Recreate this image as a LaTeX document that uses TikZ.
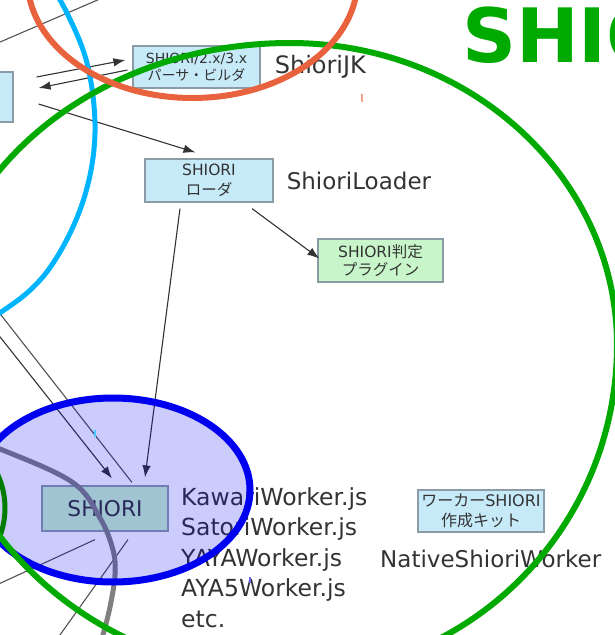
\documentclass[tikz,border=0pt]{standalone}
\usepackage{fontspec}
\setmainfont{DejaVu Sans}
\newfontfamily\jpfont{Noto Sans CJK JP}
\usepackage{tikz}
\usetikzlibrary{arrows.meta,positioning,calc}
\definecolor{boxblue}{RGB}{198,234,248}
\definecolor{boxgreen}{RGB}{200,246,202}
\definecolor{boxline}{RGB}{140,156,166}
\definecolor{inkgray}{RGB}{51,51,51}
\definecolor{ringorange}{RGB}{233,98,62}
\definecolor{ringcyan}{RGB}{0,180,255}
\definecolor{ringgreen}{RGB}{0,170,0}
\definecolor{ringdkgreen}{RGB}{0,125,0}
\definecolor{ringblue}{RGB}{0,0,240}
\definecolor{ringgray}{RGB}{128,128,128}

\begin{document}
\begin{tikzpicture}[x=1pt, y=-1pt, >={Latex[length=12pt, width=8.5pt]},
    box/.style={draw=boxline, line width=1.2pt, fill=boxblue, text=inkgray,
                align=center, inner sep=0pt},
    lbl/.style={text=inkgray, inner sep=0pt, font=\fontsize{23}{31}\selectfont},
    arr/.style={->, draw=inkgray, line width=1.1pt},
    wire/.style={draw=inkgray!85, line width=1.1pt},
    ring/.style={line width=6pt}]
    \useasboundingbox (0,0) rectangle (615,635);
    \clip (0,0) rectangle (615,635);
    % --- boxes ---
    \node[box, minimum width=113pt, minimum height=50pt] (lbox) at (-43.5,97) {};
    \node[box, minimum width=127pt, minimum height=42pt,
          font=\fontsize{14}{17}\selectfont] (parser) at (196.5,67)
      {SHIORI/2.x/3.x\\{\jpfont パーサ・ビルダ}};
    \node[box, minimum width=128pt, minimum height=43pt,
          font=\fontsize{15.5}{20}\selectfont] (loader) at (209,180.5)
      {SHIORI\\{\jpfont ローダ}};
    \node[box, fill=boxgreen, minimum width=125pt, minimum height=43pt,
          font=\fontsize{15.5}{18}\selectfont] (judge) at (380.5,260.5)
      {SHIORI{\jpfont 判定}\\{\jpfont プラグイン}};
    \node[box, minimum width=126pt, minimum height=42pt,
          font=\fontsize{16}{20}\selectfont] (kit) at (481,511)
      {{\jpfont ワーカー}SHIORI\\{\jpfont 作成キット}};
    \node[box, fill=boxgreen, minimum width=126pt, minimum height=45pt,
          font=\fontsize{21.7}{26}\selectfont] (shiori) at (105,508.5) {SHIORI};
    % --- labels ---
    \node[lbl, right=14pt of parser, font=\fontsize{24}{31}\selectfont] (jk) {ShioriJK};
    \node[lbl, right=13pt of loader] (loaderlbl) {ShioriLoader};
    \node[lbl, align=left, anchor=north west, font=\fontsize{23.5}{30.6}\selectfont]
      (workers) at (181,487)
      {KawariWorker.js\\SatoriWorker.js\\YAYAWorker.js\\AYA5Worker.js\\etc.};
    \node[lbl, anchor=base west] (native) at (380,567) {NativeShioriWorker};
    % --- connectors ---
    \coordinate (farA) at (-60,237);
    \coordinate (farB) at (-60,261);
    \coordinate (farC) at (-60,611);
    \coordinate (farD) at (30,677);
    \coordinate (farE) at (-30,55);
    \coordinate (farF) at (130,-14);
    \draw[wire] (farE) -- (farF);
    \draw[arr] ([xshift=23pt,yshift=20pt]lbox.east) -- ([xshift=-7pt,yshift=7pt]parser.west);
    \draw[arr] ([xshift=-5pt,yshift=-3pt]parser.west) -- ([xshift=25pt,yshift=9pt]lbox.east);
    \draw[arr] ([xshift=25pt,yshift=-7pt]lbox.east) -- ([xshift=-13.5pt,yshift=6pt]loader.north);
    \draw[arr] ([xshift=43pt,yshift=-6pt]loader.south) -- ([xshift=2pt,yshift=2pt]judge.west);
    \draw[arr] ([xshift=-29pt,yshift=-6pt]loader.south) -- ([xshift=40pt,yshift=8pt]shiori.north);
    \draw[wire] (farA) -- ([xshift=27pt,yshift=3pt]shiori.north);
    \draw[arr] (farB) -- ([xshift=7pt,yshift=7pt]shiori.north);
    \draw[wire] ([xshift=-10pt,yshift=-8pt]shiori.south) -- (farC);
    \draw[wire] ([xshift=23pt,yshift=-8pt]shiori.south) -- (farD);
    % --- gray ring, then the blue one over it ---
    \draw[ring, ringgray, line width=5pt] plot [smooth, tension=0.6] coordinates
      {(-60,428) (0,449) (72,482) (100,518) (113,550) (115,575) (110,607) (103,635) (95,665)};
    \draw[ring, ringblue, line width=7pt, fill=ringblue, fill opacity=0.2]
      (113,490) ellipse [x radius=137, y radius=92];
    \draw[ring, ringdkgreen, line width=5pt] (-75,508) circle [radius=80];
    % --- cyan, green and orange rings ---
    \draw[ring, ringcyan, line width=5pt] plot [smooth, tension=0.6] coordinates
      {(42,-30) (68,15) (88,67) (95,133) (85,195) (60,252) (27,293) (-30,332)};
    \draw[ring, ringgreen] (617,345)
      .. controls (617,178) and (471,43) .. (290,43)
      .. controls (93,43) and (-66,178) .. (-66,345)
      .. controls (-66,527) and (93,675) .. (290,675)
      .. controls (471,675) and (617,527) .. cycle;
    \draw[ring, ringorange] (192.5,-20.5) ellipse [x radius=165, y radius=118.5];
    % --- stray marks ---
    \draw[line width=2pt, ringorange!60] (362,94) -- (362,102);
    \draw[line width=1.5pt, ringcyan!70] (95,430) -- (95,437);
    \draw[line width=1.5pt, ringblue!60] (250,577) -- (250,583);
    % --- title ---
    \node[anchor=base west, inner sep=0pt, text=ringgreen,
          font=\fontsize{75}{75}\selectfont\bfseries] (title) at (462,62) {SHIO};
\end{tikzpicture}
\end{document}
